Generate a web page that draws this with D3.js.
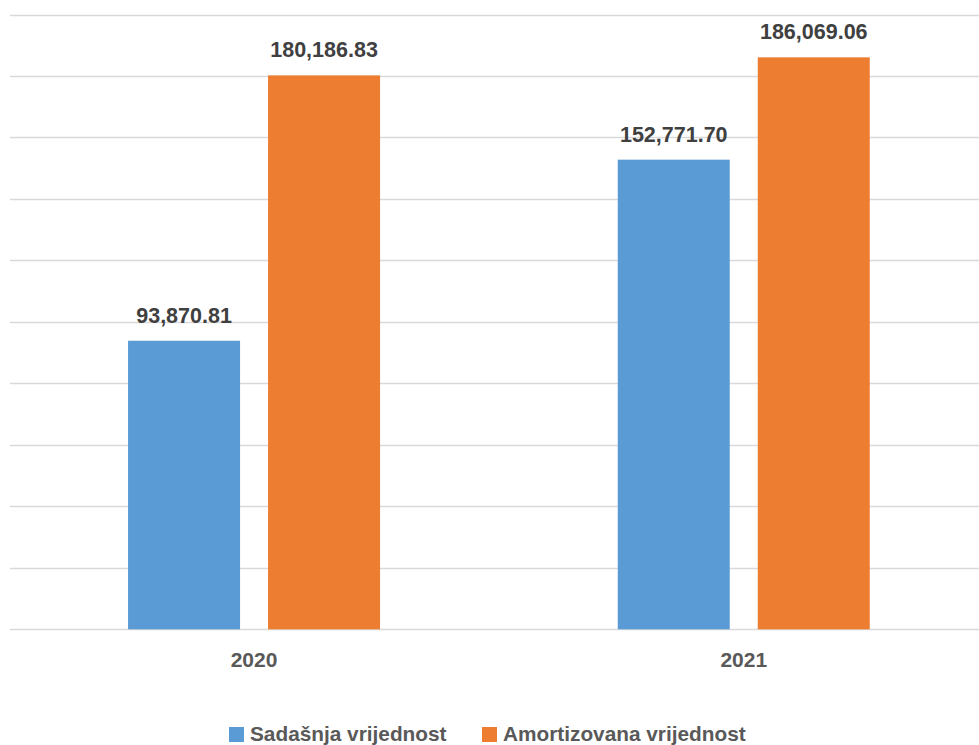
<!DOCTYPE html>
<html>
<head>
<meta charset="utf-8">
<script src="https://cdn.jsdelivr.net/npm/d3@7"></script>
<style>
  html, body { margin: 0; padding: 0; background: #fff; }
  svg { display: block; }
</style>
</head>
<body>
<svg id="chart" width="979" height="745"></svg>
<script>
const categories = ["2020", "2021"];
const seriesNames = ["Sadašnja vrijednost", "Amortizovana vrijednost"];
const sadasnja = [93870.81, 152771.70];
const amortizovana = [180186.83, 186069.06];
const yTicks = [0, 20000, 40000, 60000, 80000, 100000, 120000, 140000, 160000, 180000, 200000];
const colors = ["#5B9BD5", "#ED7D31"];

const values = [sadasnja, amortizovana];
const data = categories.map((c, i) => ({
  cat: c,
  vals: seriesNames.map((s, j) => ({ series: s, idx: j, value: values[j][i] }))
}));

const svg = d3.select("#chart");
const fontFam = "'Liberation Sans', Arial, sans-serif";

const x0 = d3.scaleBand().domain(categories).range([9.2, 988.6]).padding(0);
const groupW = 252;
const x1 = d3.scaleBand().domain(seriesNames).range([0, groupW]).paddingInner(0.2).paddingOuter(0);
const y = d3.scaleLinear().domain([0, 200000]).range([629.3, 14.5]);

// gridlines
svg.append("g").selectAll("line").data(yTicks).join("line")
  .attr("x1", 10).attr("x2", 979)
  .attr("y1", d => Math.round(y(d)) + 0.5).attr("y2", d => Math.round(y(d)) + 0.5)
  .attr("stroke", "#D9D9D9").attr("stroke-width", 1.5);

// bars
const groups = svg.append("g").selectAll("g").data(data).join("g")
  .attr("transform", d => `translate(${x0(d.cat) + (x0.bandwidth() - groupW) / 2},0)`);

groups.selectAll("rect").data(d => d.vals).join("rect")
  .attr("x", d => x1(d.series))
  .attr("y", d => y(d.value))
  .attr("width", x1.bandwidth())
  .attr("height", d => y(0) - y(d.value))
  .attr("fill", d => colors[d.idx]);

const fmt = d3.format(",.2f");
groups.selectAll("text").data(d => d.vals).join("text")
  .attr("x", d => x1(d.series) + x1.bandwidth() / 2)
  .attr("y", d => y(d.value) - 18)
  .attr("text-anchor", "middle")
  .attr("font-family", fontFam)
  .attr("font-weight", "bold")
  .attr("font-size", "21.5px")
  .attr("fill", "#404040")
  .text(d => fmt(d.value));

// x axis labels
const xAxis = d3.axisBottom(x0).tickSize(0).tickPadding(0);
const gx = svg.append("g").attr("transform", `translate(0,${y(0)})`).call(xAxis);
gx.select(".domain").remove();
gx.selectAll("text")
  .attr("y", 37.5).attr("dy", null)
  .attr("font-family", fontFam)
  .attr("font-weight", "bold")
  .attr("font-size", "21px")
  .attr("fill", "#595959");

// legend
const legendItems = [
  { name: seriesNames[0], sx: 229, tx: 250 },
  { name: seriesNames[1], sx: 482, tx: 503 }
];
const lg = svg.append("g");
legendItems.forEach((it, i) => {
  lg.append("rect").attr("x", it.sx).attr("y", 727).attr("width", 15).attr("height", 15).attr("fill", colors[i]);
  lg.append("text").attr("x", it.tx).attr("y", 741)
    .attr("font-family", fontFam).attr("font-weight", "bold").attr("font-size", "20.8px")
    .attr("fill", "#595959").text(it.name);
});
</script>
</body>
</html>
